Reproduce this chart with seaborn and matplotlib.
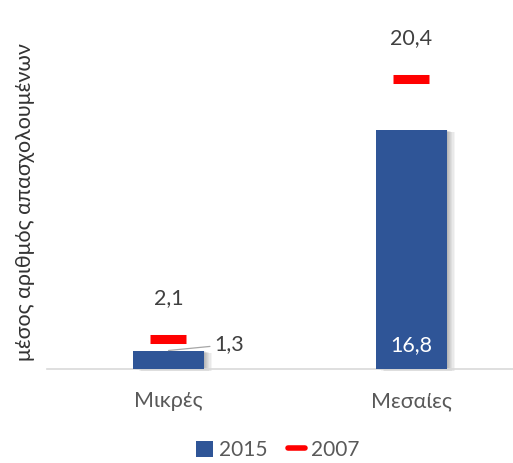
import matplotlib
matplotlib.use("Agg")
import matplotlib.pyplot as plt
import seaborn as sns
import pandas as pd
from matplotlib.patches import Rectangle, Patch
from matplotlib.lines import Line2D
from matplotlib.transforms import offset_copy

categories = ["Μικρές", "Μεσαίες"]
values_2015 = [1.3, 16.8]
values_2007 = [2.1, 20.4]
labels_2015 = ["1,3", "16,8"]
labels_2007 = ["2,1", "20,4"]
series_names = ["2015", "2007"]
ylabel = "μέσος αριθμός απασχολουμένων"

BLUE = "#2F5597"
RED = "#FF0000"
TXT = "#595959"

sns.set_theme(style="white")
plt.rcParams["font.family"] = ["Lato", "DejaVu Sans"]

fig = plt.figure(figsize=(5.13, 4.63), dpi=100)
ax = fig.add_axes([47/513, 94/463, 466/513, 341.5/463])

df = pd.DataFrame({"cat": categories, "v15": values_2015, "v07": values_2007})
sns.barplot(data=df, x="cat", y="v15", color=BLUE, width=0.292, saturation=1,
            ax=ax, zorder=3, edgecolor="none")

# soft shadows
for p in list(ax.patches):
    x0, y0 = p.get_x(), p.get_y()
    w, h = p.get_width(), p.get_height()
    for k in range(1, 8):
        tr = offset_copy(ax.transData, fig=fig, x=k * 1.1, y=-k * 0.35, units="dots")
        ax.add_patch(Rectangle((x0, y0), w, h, transform=tr, facecolor="black",
                               alpha=0.045, edgecolor="none", zorder=2, clip_on=False))

sns.scatterplot(data=df, x="cat", y="v07", marker="_", s=26**2, linewidth=6.5,
                color=RED, ax=ax, zorder=4, legend=False)

ax.set_xlim(-0.5, 1.418)
ax.set_ylim(0, 24)
ax.set_yticks([])
ax.set_xlabel("")
ax.set_ylabel(ylabel, fontsize=15.5, color="#333333")
ax.yaxis.set_label_coords(-0.025, 0.49)
for s in ["top", "right", "left"]:
    ax.spines[s].set_visible(False)
ax.spines["bottom"].set_color("#D9D9D9")
ax.spines["bottom"].set_linewidth(1.2)
ax.tick_params(axis="x", length=0, pad=16, labelsize=15.5, labelcolor=TXT)

# data labels
for i, (v, lab) in enumerate(zip(values_2007, labels_2007)):
    ax.annotate(lab, (i, v), xytext=(0, 41), textcoords="offset pixels",
                ha="center", va="center", fontsize=15.5, color="#404040")

# 2015 small label with leader line
ax.annotate(labels_2015[0], (0, values_2015[0]), xytext=(61, 6), textcoords="offset pixels",
            ha="center", va="center", fontsize=15.5, color="#404040",
            arrowprops=dict(arrowstyle="-", color="#A6A6A6", lw=0.9,
                            shrinkA=1, shrinkB=0))
ax.annotate(labels_2015[1], (1, 0), xytext=(0, 24), textcoords="offset pixels",
            ha="center", va="center", fontsize=15.5, color="white", zorder=5)

handles = [Patch(facecolor=BLUE, edgecolor="none", label=series_names[0]),
           Line2D([0], [0], color=RED, lw=4, label=series_names[1])]
leg = fig.legend(handles=handles, loc="center", bbox_to_anchor=(278/513, 1 - 450/463),
                 ncol=2, frameon=False, fontsize=15, handlelength=0.8, handleheight=0.8,
                 columnspacing=1.0, handletextpad=0.3)
for t in leg.get_texts():
    t.set_color(TXT)

fig.savefig("out.png", dpi=100)
